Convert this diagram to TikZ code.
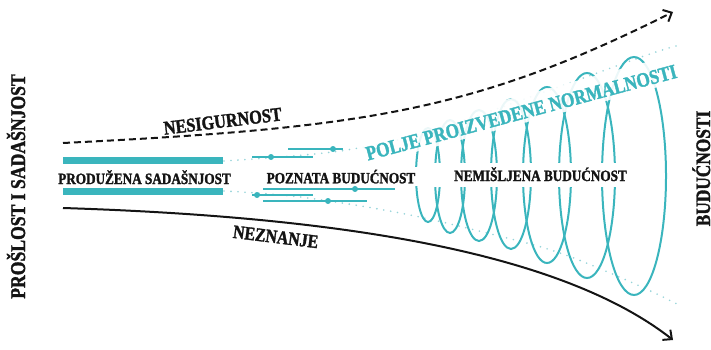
\documentclass[tikz,border=0pt]{standalone}
\usepackage{fontspec}
\setmainfont{Liberation Serif}
\newfontfamily\lblfont[FakeStretch=0.84, FakeBold=1.6]{Liberation Serif Bold}
\usetikzlibrary{arrows.meta}
\definecolor{tealc}{RGB}{58,181,189}
\definecolor{teallt}{RGB}{150,212,217}
\definecolor{ink}{RGB}{20,20,20}
\newcommand\lblsize[1]{\lblfont\fontsize{#1}{#1}\selectfont}
\begin{document}
\begin{tikzpicture}[x=1pt,y=-1pt,
  lbl/.style={text=ink, inner sep=0pt, anchor=base},
  tealtxt/.style={text=tealc, inner sep=0pt, anchor=base},
  bar/.style={draw=tealc, line width=7pt},
  seg/.style={draw=tealc, line width=2.5pt},
  dotline/.style={draw=teallt, line width=1.8pt, line cap=round, dash pattern=on 0pt off 7pt},
  coil/.style={draw=tealc, line width=2pt},
  blackline/.style={draw=ink, line width=2pt},
  tip/.style={-{Straight Barb[length=7pt,width=13pt]}}
]
\useasboundingbox (0,0) rectangle (711,350);

% dotted boundaries of the field
\draw[dotline] plot[smooth, tension=0.6] coordinates {(224,161) (340,151) (430,131) (547,91) (647,55) (680,45)};
\draw[dotline] plot[smooth, tension=0.6] coordinates {(224,191) (300,197) (400,213) (487,233) (560,253) (633,283) (677,304)};

% extended present bars
\coordinate (b1s) at (63,160.5); \coordinate (b1e) at (223,160.5);
\coordinate (b2s) at (63,191.5); \coordinate (b2e) at (223,191.5);
\draw[bar] (b1s) -- (b1e);
\draw[bar] (b2s) -- (b2e);

% known future segments
\draw[seg] (252,157) -- (313,157); \fill[tealc] (271,157) circle [radius=3pt];
\draw[seg] (288,149) -- (343,149); \fill[tealc] (333,149) circle [radius=3pt];
\draw[seg] (263,189) -- (395,189); \fill[tealc] (355,189) circle [radius=3pt];
\draw[seg] (252,195) -- (313,195); \fill[tealc] (257,195) circle [radius=3pt];
\draw[seg] (263,201) -- (367,201); \fill[tealc] (328,201) circle [radius=3pt];

% loops of the unthought future
\foreach \cx/\cy/\rx/\ry in {428/175/12/47, 450/176.5/15/56.5, 479/175.5/18/65.5, 511/174/20/75, 547/175/24/88, 587/175.5/28/102.5, 634/176/32/119}
  \draw[coil] (\cx,\cy) ellipse [x radius=\rx pt, y radius=\ry pt];

% labels
\node[lbl, font=\lblsize{15.7}] (prod) at (144.5,184) {PRODUŽENA SADAŠNJOST};
\node[lbl, font=\lblsize{15.7}, fill=white, inner sep=3pt] (pozn) at (341,183.3) {POZNATA BUDUĆNOST};
\node[lbl, font=\lblsize{15.7}, fill=white, inner xsep=22pt, inner ysep=3pt, text height=15pt, text depth=3pt] (nem) at (540.5,181) {NEMIŠLJENA BUDUĆNOST};
\node[tealtxt, font=\lblsize{20.4}, rotate=15, fill=white, fill opacity=0.9, text opacity=1, inner xsep=3pt, inner ysep=1pt, text height=22pt, text depth=3pt] (polje) at (523,119) {POLJE PROIZVEDENE NORMALNOSTI};

% uncertainty and ignorance curves
\coordinate (ds) at (63,143); \coordinate (de) at (673,12);
\draw[blackline, dash pattern=on 7pt off 4pt, tip] (ds) .. controls (363,128) and (473,112) .. (de);
\coordinate (ss) at (63,208); \coordinate (se) at (673,340);
\draw[blackline, tip] (ss) .. controls (313,216) and (553,246) .. (se);

\node[lbl, font=\lblsize{19.4}, rotate=7] (nesig) at (223.5,127.5) {NESIGURNOST};
\node[lbl, font=\lblsize{18.9}, rotate=-7] (nezn) at (275,243) {NEZNANJE};

% time axis labels
\node[lbl, font=\lblsize{21}, rotate=90] (past) at (25,186.5) {PROŠLOST I SADAŠNJOST};
\node[lbl, font=\lblsize{20.6}, rotate=90] (fut) at (710,168.5) {BUDUĆNOSTI};
\end{tikzpicture}
\end{document}
